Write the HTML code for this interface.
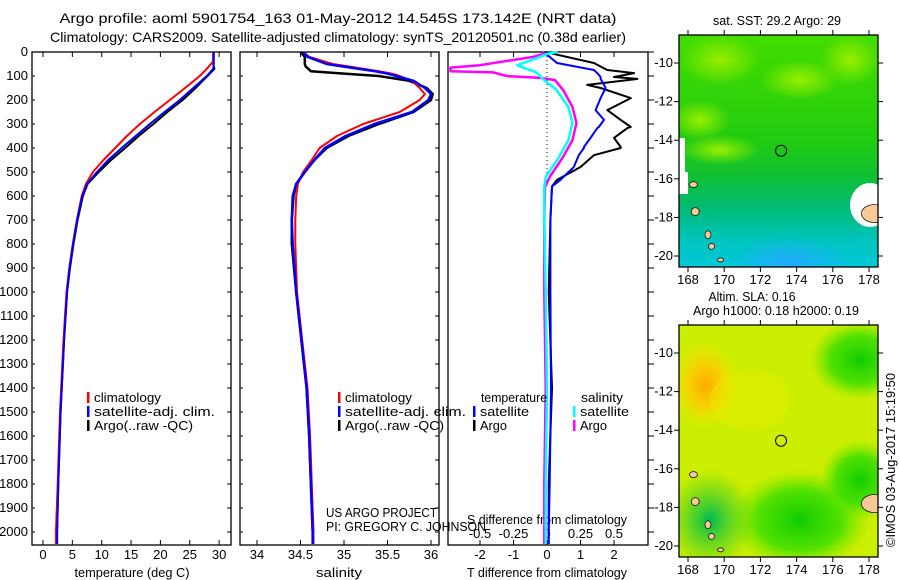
<!DOCTYPE html>
<html><head><meta charset="utf-8"><style>
body{margin:0;background:#fff;}
svg{display:block;font-family:"Liberation Sans",sans-serif;}
text{font-size:12px;fill:#000;}
text.big{font-size:13px;}
</style></head><body>
<svg id="c" width="900" height="580" viewBox="0 0 900 580">
<defs>
<linearGradient id="sstBase" x1="0" y1="0" x2="0" y2="1">
<stop offset="0" stop-color="#44dd00"/><stop offset="0.45" stop-color="#22cc10"/>
<stop offset="0.6" stop-color="#11c030"/><stop offset="0.75" stop-color="#00bb77"/>
<stop offset="0.88" stop-color="#00c4bb"/><stop offset="1" stop-color="#00c8d8"/></linearGradient>
<radialGradient id="sstBlue" cx="0.5" cy="0.5" r="0.5"><stop offset="0" stop-color="#22aaff"/><stop offset="1" stop-color="#22aaff" stop-opacity="0"/></radialGradient>
<radialGradient id="sstLight" cx="0.5" cy="0.5" r="0.5"><stop offset="0" stop-color="#99ee00"/><stop offset="1" stop-color="#99ee00" stop-opacity="0"/></radialGradient>
<radialGradient id="slaOrange" cx="0.5" cy="0.5" r="0.5"><stop offset="0" stop-color="#ffaa00"/><stop offset="0.5" stop-color="#ffcc00" stop-opacity="0.8"/><stop offset="1" stop-color="#eeee00" stop-opacity="0"/></radialGradient>
<radialGradient id="slaGreen" cx="0.5" cy="0.5" r="0.5"><stop offset="0" stop-color="#11cc00"/><stop offset="0.6" stop-color="#33dd00" stop-opacity="0.8"/><stop offset="1" stop-color="#66e600" stop-opacity="0"/></radialGradient>
<radialGradient id="slaTeal" cx="0.5" cy="0.5" r="0.5"><stop offset="0" stop-color="#00bb55"/><stop offset="1" stop-color="#22cc22" stop-opacity="0"/></radialGradient>
</defs>
</svg>
<script>
// ---------- data ----------
const depthTicks=[0,100,200,300,400,500,600,700,800,900,1000,1100,1200,1300,1400,1500,1600,1700,1800,1900,2000];
const tempTicks=[0,5,10,15,20,25,30];
const salTicks=[34,34.5,35,35.5,36];
const tdTicks=[-2,-1,0,1,2];
const sdTicks=[-0.5,-0.25,0,0.25,0.5];
const sdTickLabels=['-0.5','-0.25','0','0.25','0.5'];

const tDepth=[0,40,50,70,100,150,200,250,300,350,400,450,500,550,600,700,800,900,1000,1200,1500,1800,2000,2050];
const tClim=[29.0,29.0,28.6,27.9,26.7,24.2,21.6,19.0,16.5,14.3,12.3,10.3,8.5,7.3,6.6,5.8,5.1,4.5,4.0,3.5,2.9,2.5,2.2,2.2];
const tSat=[29.1,29.1,29.1,29.0,27.9,25.6,23.3,20.7,18.2,15.8,13.4,11.1,9.2,7.5,6.7,5.8,5.1,4.5,4.1,3.6,3.0,2.6,2.4,2.4];
const tArgo=[29.0,29.0,29.0,29.2,28.0,26.0,23.8,21.2,18.8,16.3,14.0,11.6,9.5,7.6,6.8,5.9,5.2,4.6,4.1,3.6,3.0,2.6,2.4,2.4];

const sDepth=[0,20,50,60,80,90,100,120,150,175,200,250,300,350,400,450,500,550,600,700,800,1000,1200,1400,1600,1800,2000,2050];
const sClim=[34.53,34.6,34.87,35.05,35.4,35.55,35.64,35.78,35.87,35.93,35.87,35.64,35.22,34.92,34.72,34.63,34.53,34.47,34.45,34.44,34.44,34.46,34.52,34.58,34.61,34.63,34.65,34.65];
const sSat=[34.53,34.58,34.8,34.98,35.35,35.5,35.6,35.8,35.93,36.0,35.97,35.78,35.35,35.02,34.78,34.66,34.55,34.45,34.41,34.40,34.41,34.45,34.51,34.57,34.6,34.62,34.64,34.64];
const sArgo=[34.5,34.55,34.55,34.56,34.62,35.0,35.4,35.75,35.95,36.02,36.0,35.8,35.4,35.05,34.8,34.66,34.55,34.45,34.42,34.40,34.40,34.45,34.51,34.57,34.6,34.62,34.64,34.64];

const dtDepth=[0,5,46,75,88,104,112,137,150,192,242,283,312,317,358,396,400,430,479,533,560,700,1000,1400,1800,2000,2050];
const dtSat=[-0.05,-0.05,0.3,1.4,1.5,1.6,1.6,1.7,1.75,1.6,1.45,1.7,1.55,1.5,1.3,1.1,1.1,0.95,0.8,0.4,0.15,0.1,0.1,0.12,0.08,0.05,0.05];
const dtArgo=[-0.05,0.1,1.4,1.8,2.6,2.0,2.7,1.2,1.6,2.5,1.8,2.2,2.5,2.4,2.0,2.2,2.2,1.4,1.0,0.3,0.15,0.1,0.05,0.15,0.05,0.05,0.05];
const dsDepth=[0,8,20,55,65,80,85,100,108,117,158,229,296,367,437,521,562,700,1000,1400,1800,2050];
const dsSat=[0.08,0,-0.05,-0.22,-0.18,-0.1,-0.08,-0.05,-0.04,-0.02,0.07,0.16,0.19,0.16,0.09,-0.01,-0.02,-0.02,-0.01,0,-0.01,-0.01];
const dsArgo=[-0.02,-0.03,-0.1,-0.5,-0.72,-0.72,-0.4,-0.3,-0.05,0.06,0.12,0.19,0.22,0.19,0.12,0.02,-0.015,-0.02,-0.02,-0.01,-0.02,-0.02];

// ---------- helpers ----------
const NS='http://www.w3.org/2000/svg';
const svg=document.getElementById('c');
function mk(tag,attrs,parent){const e=document.createElementNS(NS,tag);for(const k in attrs)e.setAttribute(k,attrs[k]);(parent||svg).appendChild(e);return e;}
function txt(s,x,y,anchor,parent){const t=mk('text',{x:x,y:y,'text-anchor':anchor||'start'},parent);t.textContent=s;return t;}
function fit(t,len,size){t.setAttribute('textLength',len);t.setAttribute('lengthAdjust','spacingAndGlyphs');t.style.fontSize=(size||13)+'px';}
const Y0=52,PY=0.24;
const yD=d=>Y0+d*PY;
const PB=545;
const panels=[{x0:32,x1:231},{x0:240,x1:439},{x0:448,x1:648}];
const xT=v=>43+5.87*v;
const xS=v=>257+87*(v-34);
const xDT=v=>547+33.5*v;
const xDS=v=>547+134*v;

function poly(depths,vals,xf,color,w,name,parent){
  let pts=depths.map((d,i)=>xf(vals[i]).toFixed(1)+','+yD(d).toFixed(1)).join(' ');
  const p=mk('polyline',{points:pts,fill:'none',stroke:color,'stroke-width':w,'stroke-linejoin':'round'},parent);
  
  
  return p;
}

// titles
const t1=txt('Argo profile: aoml 5901754_163 01-May-2012 14.545S 173.142E (NRT data)',338,23,'middle');
fit(t1,557,14);


const t2=txt('Climatology: CARS2009. Satellite-adjusted climatology: synTS_20120501.nc (0.38d earlier)',338,42,'middle');
fit(t2,576,14);



// panel frames & depth ticks
panels.forEach((p,pi)=>{
  const g=mk('g',{});
  
  
  const r=mk('rect',{x:p.x0,y:Y0,width:p.x1-p.x0,height:PB-Y0,fill:'none',stroke:'#000','stroke-width':1.3},g);
  
  
  depthTicks.forEach(d=>{
    const y=yD(d);
    if(pi===2){mk('line',{x1:p.x1,x2:p.x1+6,y1:y,y2:y,stroke:'#000'},g);}
    else{mk('line',{x1:p.x0,x2:p.x0+3,y1:y,y2:y,stroke:'#000'},g);mk('line',{x1:p.x1-4,x2:p.x1,y1:y,y2:y,stroke:'#000'},g);}
  });
});
const yax=mk('g',{});


depthTicks.forEach(d=>{const t=txt(String(d),28,yD(d)+4,'end',yax);t.setAttribute('class','big');});

// x axes
function xaxis(ticks,labels,xf,y,tickY,name){
  const g=mk('g',{});
  
  
  ticks.forEach((v,i)=>{const x=xf(v);mk('line',{x1:x,x2:x,y1:tickY,y2:tickY-5,stroke:'#000'},g);const t=txt(labels[i],x,y,'middle',g);t.setAttribute('class','big');});
  return g;
}
xaxis(tempTicks,tempTicks.map(String),xT,559,PB,'temperature-axis');
xaxis(salTicks,salTicks.map(String),xS,559,PB,'salinity-axis');
xaxis(tdTicks,tdTicks.map(String),xDT,559,PB,'t-difference-axis');
xaxis(sdTicks,sdTickLabels,xDS,538,PB,'s-difference-axis');
[[tempTicks,xT],[salTicks,xS],[tdTicks,xDT]].forEach(a=>a[0].forEach(v=>mk('line',{x1:a[1](v),x2:a[1](v),y1:Y0,y2:Y0+5,stroke:'#000'})));
const l1=txt('temperature (deg C)',132,577,'middle');fit(l1,115);
const l2=txt('salinity',339,577,'middle');fit(l2,46);
const l3=txt('T difference from climatology',547,577,'middle');fit(l3,160);
const l4=txt('S difference from climatology',547,524,'middle');fit(l4,160);

// dotted zero line
const zl=mk('line',{x1:547,x2:547,y1:Y0,y2:yD(560),stroke:'#000','stroke-dasharray':'1,3'});


// series
poly(tDepth,tArgo,xT,'#000',2,'temp-argo-line');
poly(tDepth,tClim,xT,'#f00',2,'temp-climatology-line');
poly(tDepth,tSat,xT,'#00f',2,'temp-satellite-line');
poly(sDepth,sArgo,xS,'#000',2.5,'salinity-argo-line');
poly(sDepth,sClim,xS,'#f00',2,'salinity-climatology-line');
poly(sDepth,sSat,xS,'#00f',2.5,'salinity-satellite-line');
poly(dtDepth,dtArgo,xDT,'#000',2,'tdiff-argo-line');
poly(dtDepth,dtSat,xDT,'#00f',2,'tdiff-satellite-line');
poly(dsDepth,dsArgo,xDS,'#f0f',2.5,'sdiff-argo-line');
poly(dsDepth,dsSat,xDS,'#0ff',2.5,'sdiff-satellite-line');

// legends
function legendEntry(x,y,color,label,name,len){
  const g=mk('g',{});
  
  
  mk('rect',{x:x,y:y-10,width:2.5,height:11,fill:color},g);
  const t=txt(label,x+7,y,'start',g);
  if(len)fit(t,len);else t.setAttribute('class','big');
}
[[87,'p1'],[338,'p2']].forEach(([lx,p])=>{
  legendEntry(lx,402,'#f00','climatology',p+'-legend-climatology',67);
  legendEntry(lx,416,'#00f','satellite-adj. clim.',p+'-legend-satellite',121);
  legendEntry(lx,430,'#000','Argo(..raw -QC)',p+'-legend-argo',99);
});
const lt=txt('temperature',481,402);fit(lt,66);
const ls=txt('salinity',581,402);fit(ls,42);
legendEntry(473,416,'#00f','satellite','legend-tdiff-satellite',49);
legendEntry(473,430,'#000','Argo','legend-tdiff-argo',27);
legendEntry(573,416,'#0ff','satellite','legend-sdiff-satellite',49);
legendEntry(573,430,'#f0f','Argo','legend-sdiff-argo',27);
const pr=txt('US ARGO PROJECT',326,517);fit(pr,111);
const pi=txt('PI: GREGORY C. JOHNSON',326,531);fit(pi,160);

// ---------- maps ----------
const lonTicks=[168,170,172,174,176,178];
const latTicks=[-10,-12,-14,-16,-18,-20];
function map(y0,name,drawFill){
  const g=mk('g',{});
  
  
  const X0=679,X1=878,Y1=y0+232;
  const mx=l=>688+18.1*(l-168);
  const my=l=>y0+28+19.3*(-10-l);
  const cl=mk('clipPath',{id:name+'-clip'},g);mk('rect',{x:X0,y:y0,width:X1-X0,height:Y1-y0},cl);
  const fg=mk('g',{'clip-path':'url(#'+name+'-clip)'},g);
  drawFill(fg,X0,y0,X1,Y1,mx,my);
  [[168.3,-16.3,4,3],[168.4,-17.7,4,4],[169.1,-18.9,3,4],[169.3,-19.5,3,3],[169.8,-20.2,3,2]].forEach(a=>mk('ellipse',{cx:mx(a[0]),cy:my(a[1]),rx:a[2],ry:a[3],fill:'#f8c896',stroke:'#000','stroke-width':0.7},fg));
  mk('ellipse',{cx:mx(178.3),cy:my(-17.8),rx:13,ry:9,fill:'#f8c896',stroke:'#000','stroke-width':0.7},fg);
  const c=mk('circle',{cx:mx(173.14),cy:my(-14.545),r:5.5,fill:'none',stroke:'#000','stroke-width':1},g);
  
  
  mk('rect',{x:X0,y:y0,width:X1-X0,height:Y1-y0,fill:'none',stroke:'#000','stroke-width':1.3},g);
  lonTicks.forEach(l=>{const x=mx(l);mk('line',{x1:x,x2:x,y1:Y1,y2:Y1+5,stroke:'#000'},g);mk('line',{x1:x,x2:x,y1:y0,y2:y0-5,stroke:'#000'},g);const t=txt(String(l),x,Y1+17,'middle',g);t.setAttribute('class','big');});
  latTicks.forEach(l=>{const y=my(l);mk('line',{x1:X0,x2:X0-5,y1:y,y2:y,stroke:'#000'},g);mk('line',{x1:X1,x2:X1+5,y1:y,y2:y,stroke:'#000'},g);const t=txt(String(l),X0-6,y+4,'end',g);t.setAttribute('class','big');});
}
map(35,'sst-map',(g,X0,Y0m,X1,Y1)=>{
  mk('rect',{x:X0,y:Y0m,width:X1-X0,height:Y1-Y0m,fill:'url(#sstBase)'},g);
  [[720,60,40,25],[800,80,40,20],[850,60,30,25],[720,150,40,15],[700,120,30,20]].forEach(a=>mk('ellipse',{cx:a[0],cy:a[1],rx:a[2],ry:a[3],fill:'url(#sstLight)'},g));
  mk('ellipse',{cx:790,cy:262,rx:60,ry:25,fill:'url(#sstBlue)'},g);
  mk('rect',{x:X0,y:172,width:9,height:22,fill:'#fff'},g);
  mk('rect',{x:X0,y:138,width:6,height:34,fill:'#fff'},g);
  mk('ellipse',{cx:870,cy:205,rx:20,ry:22,fill:'#fff'},g);
});
map(325,'sla-map',(g,X0,Y0m,X1,Y1)=>{
  mk('rect',{x:X0,y:Y0m,width:X1-X0,height:Y1-Y0m,fill:'#ccee00'},g);
  mk('ellipse',{cx:860,cy:360,rx:50,ry:40,fill:'url(#slaGreen)'},g);
  mk('ellipse',{cx:800,cy:520,rx:70,ry:50,fill:'url(#slaGreen)'},g);
  mk('ellipse',{cx:860,cy:480,rx:40,ry:40,fill:'url(#slaGreen)'},g);
  mk('ellipse',{cx:710,cy:520,rx:45,ry:50,fill:'url(#slaTeal)'},g);
  mk('ellipse',{cx:705,cy:385,rx:35,ry:45,fill:'url(#slaOrange)'},g);
  mk('ellipse',{cx:750,cy:400,rx:40,ry:30,fill:'#eeee00',opacity:0.35},g);
});
const m1=txt('sat. SST: 29.2  Argo: 29',777,25,'middle');fit(m1,128);
const m2=txt('Altim. SLA: 0.16',752,301,'middle');fit(m2,87);
const m3=txt('Argo h1000: 0.18 h2000: 0.19',776,315,'middle');fit(m3,166);
const ts=txt('©IMOS 03-Aug-2017 15:19:50',0,0,'middle');fit(ts,174);ts.setAttribute('transform','translate(895,460) rotate(-90)');

</script>
</body></html>
